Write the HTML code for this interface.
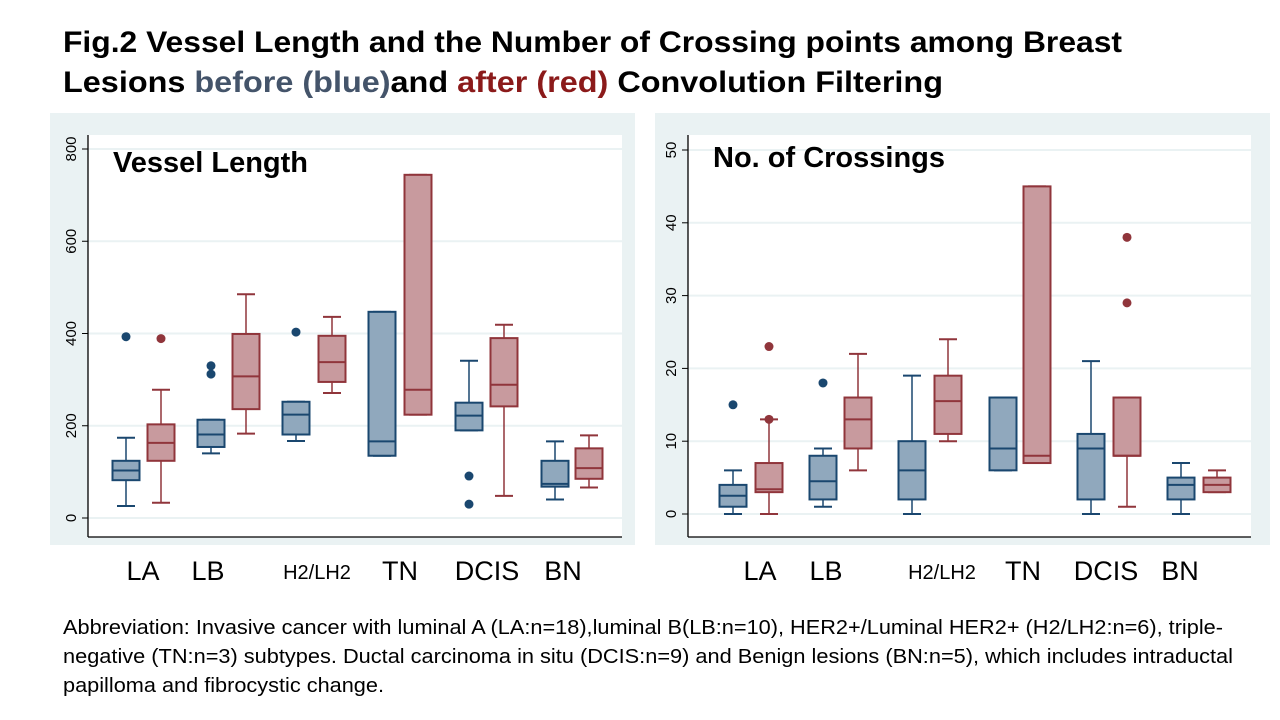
<!DOCTYPE html>
<html><head><meta charset="utf-8"><style>
html,body{margin:0;padding:0;background:#fff;width:1280px;height:720px;overflow:hidden}
svg{display:block;font-family:"Liberation Sans",sans-serif}
</style></head><body>
<svg id="root" width="1280" height="720" viewBox="0 0 1280 720">
<text x="63" y="52" font-size="30" font-weight="bold" textLength="1059" lengthAdjust="spacingAndGlyphs">Fig.2 Vessel Length and the Number of Crossing points among Breast</text>
<text x="63" y="92" font-size="30" font-weight="bold" textLength="880" lengthAdjust="spacingAndGlyphs">Lesions <tspan fill="#44546a">before (blue)</tspan>and <tspan fill="#8b1a1a">after (red)</tspan> Convolution Filtering</text>
<g id="left"></g>
<g id="right"></g>
<g font-size="20">
<text x="63" y="634" textLength="1160" lengthAdjust="spacingAndGlyphs">Abbreviation: Invasive cancer with luminal A (LA:n=18),luminal B(LB:n=10), HER2+/Luminal HER2+ (H2/LH2:n=6), triple-</text>
<text x="63" y="663" textLength="1170" lengthAdjust="spacingAndGlyphs">negative (TN:n=3) subtypes. Ductal carcinoma in situ (DCIS:n=9) and Benign lesions (BN:n=5), which includes intraductal</text>
<text x="63" y="692" textLength="321" lengthAdjust="spacingAndGlyphs">papilloma and fibrocystic change.</text>
</g>
</svg>
<script>
// Data
const categories = ["LA","LB","H2/LH2","TN","DCIS","BN"];
// [lo, q1, med, q3, hi]
const vesselBefore = [[26,82,103,124,174],[140,154,181,213,213],[167,181,224,252,252],[135,135,166,447,447],[190,190,222,250,341],[40,68,74,124,166]];
const vesselAfter = [[33,124,163,203,278],[183,236,307,399,485],[271,295,338,395,436],[224,224,278,744,744],[48,242,289,390,419],[66,85,108,151,179]];
const vesselOutBefore = [[393],[312,330],[403],[],[91,30],[]];
const vesselOutAfter = [[389],[],[],[],[],[]];
const crossBefore = [[0,1,2.5,4,6],[1,2,4.5,8,9],[0,2,6,10,19],[6,6,9,16,16],[0,2,9,11,21],[0,2,4,5,7]];
const crossAfter = [[0,3,3.4,7,13],[6,9,13,16,22],[10,11,15.5,19,24],[7,7,8,45,45],[1,8,8,16,16],[3,3,4,5,6]];
const crossOutBefore = [[15],[18],[],[],[],[]];
const crossOutAfter = [[13,23],[],[],[],[29,38],[]];
const vesselTicks = [0,200,400,600,800];
const crossTicks = [0,10,20,30,40,50];

const NS="http://www.w3.org/2000/svg";
function mk(p,t,a){const e=document.createElementNS(NS,t);for(const k in a)e.setAttribute(k,a[k]);p.appendChild(e);return e;}

function chart(g,cfg){
  mk(g,'rect',{x:cfg.px,y:113,width:cfg.pw,height:432,fill:'#eaf2f3'});
  mk(g,'rect',{x:cfg.ax,y:135,width:cfg.right-cfg.ax,height:402,fill:'#fff'});
  const y=v=>cfg.y0-v*(cfg.y0-cfg.yTop)/cfg.max;
  cfg.ticks.forEach(t=>{
    const gl=mk(g,'line',{x1:cfg.ax,x2:cfg.right,y1:y(t),y2:y(t),stroke:'#eaf2f3','stroke-width':2});
    
    
    mk(g,'line',{x1:cfg.ax-6,x2:cfg.ax,y1:y(t),y2:y(t),stroke:'#000','stroke-width':1});
    const tx=mk(g,'text',{x:0,y:0,'font-size':15,'text-anchor':'middle',transform:`translate(${cfg.ax-12},${y(t)}) rotate(-90)`});
    tx.textContent=t;
    
    
  });
  mk(g,'line',{x1:cfg.ax,x2:cfg.ax,y1:135,y2:537,stroke:'#000','stroke-width':1.3});
  mk(g,'line',{x1:cfg.ax,x2:cfg.right,y1:537,y2:537,stroke:'#000','stroke-width':1.3});
  const tt=mk(g,'text',{x:cfg.ax+25,y:cfg.titleY,'font-size':29,'font-weight':'bold'});
  tt.textContent=cfg.title;
  
  
  const series=[[cfg.before,cfg.outB,'#1a476f','#90a8bd',cfg.cb],[cfg.after,cfg.outA,'#90353b','#c89a9e',cfg.ca]];
  series.forEach(([d,o,sc,fc,cx],si)=>{
    d.forEach((b,i)=>{
      const c=cx[i],w=27;
      const bg=mk(g,'g',{});
      
      
      mk(bg,'line',{x1:c,x2:c,y1:y(b[0]),y2:y(b[1]),stroke:sc,'stroke-width':1.5});
      mk(bg,'line',{x1:c,x2:c,y1:y(b[3]),y2:y(b[4]),stroke:sc,'stroke-width':1.5});
      mk(bg,'line',{x1:c-9,x2:c+9,y1:y(b[0]),y2:y(b[0]),stroke:sc,'stroke-width':2});
      mk(bg,'line',{x1:c-9,x2:c+9,y1:y(b[4]),y2:y(b[4]),stroke:sc,'stroke-width':2});
      mk(bg,'rect',{x:c-w/2,y:y(b[3]),width:w,height:Math.max(1,y(b[1])-y(b[3])),fill:fc,stroke:sc,'stroke-width':2});
      mk(bg,'line',{x1:c-w/2,x2:c+w/2,y1:y(b[2]),y2:y(b[2]),stroke:sc,'stroke-width':2});
      o[i].forEach(v=>{
        const pt=mk(bg,'circle',{cx:c,cy:y(v),r:4.5,fill:sc});
        
        
      });
    });
  });
  categories.forEach((k,i)=>{
    const small=k==='H2/LH2';
    const t=mk(g,'text',{x:cfg.lab[i],y:small?579:580,'font-size':small?20:27,'text-anchor':'middle'});
    t.textContent=k;
    
    
  });
}
chart(document.getElementById('left'),{px:50,pw:585,ax:88,right:622,y0:518,yTop:149,max:800,ticks:vesselTicks,
  title:'Vessel Length',titleY:172,before:vesselBefore,after:vesselAfter,outB:vesselOutBefore,outA:vesselOutAfter,
  cb:[126,211,296,382,469,555],ca:[161,246,332,418,504,589],lab:[143,208,317,400,487,563]});
chart(document.getElementById('right'),{px:655,pw:615,ax:688,right:1251,y0:514,yTop:150,max:50,ticks:crossTicks,
  title:'No. of Crossings',titleY:167,before:crossBefore,after:crossAfter,outB:crossOutBefore,outA:crossOutAfter,
  cb:[733,823,912,1003,1091,1181],ca:[769,858,948,1037,1127,1217],lab:[760,826,942,1023,1106,1180]});
</script>
</body></html>
